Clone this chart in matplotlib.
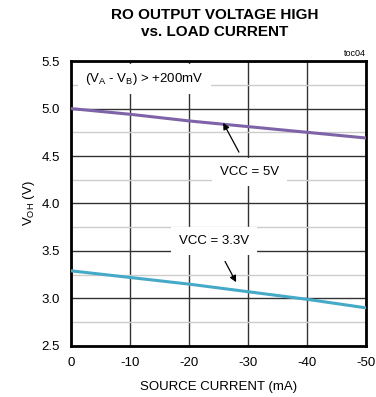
import matplotlib
matplotlib.use("Agg")
import matplotlib.pyplot as plt
import numpy as np

plt.rcParams['font.family'] = ['Liberation Sans', 'DejaVu Sans']

current = [0, -10, -20, -30, -40, -50]
voh_5v = [5.00, 4.94, 4.87, 4.81, 4.75, 4.69]
voh_33v = [3.29, 3.22, 3.15, 3.07, 2.99, 2.90]

fig = plt.figure(figsize=(3.76, 3.97), dpi=100)
ax = fig.add_axes([0.189, 0.129, 0.784, 0.717])

ax.plot(current, voh_5v, color='#7f63a8', lw=2.2, zorder=3)
ax.plot(current, voh_33v, color='#45a9c8', lw=2.2, zorder=3)

ax.set_xlim(0, -50)
ax.set_ylim(2.5, 5.5)
ax.set_xticks(np.arange(0, -51, -10))
ax.set_xticklabels(['0', '-10', '-20', '-30', '-40', '-50'])
ax.set_yticks(np.arange(2.5, 5.51, 0.5))
ax.set_yticks(np.arange(2.75, 5.5, 0.5), minor=True)
ax.grid(which='major', color='#333333', lw=1.0, zorder=1)
ax.grid(which='minor', axis='y', color='#cccccc', lw=1.0, zorder=1)
ax.tick_params(which='both', length=0, labelsize=9.5, pad=8)
for s in ax.spines.values():
    s.set_linewidth(2.0)

ax.set_xlabel('SOURCE CURRENT (mA)', fontsize=9.5, labelpad=9)
ax.set_ylabel('V$_{\\mathregular{OH}}$ (V)', fontsize=9.5, labelpad=3)

fig.suptitle('RO OUTPUT VOLTAGE HIGH\nvs. LOAD CURRENT', fontsize=11,
             fontweight='bold', y=0.98, x=0.572, linespacing=1.25)
fig.text(0.972, 0.855, 'toc04', fontsize=6.5, ha='right', va='bottom')

ax.text(-12.4, 5.31, '(V$_{\\mathregular{A}}$ - V$_{\\mathregular{B}}$) > +200mV',
        fontsize=9.5, ha='center', va='center', zorder=4,
        bbox=dict(boxstyle='square,pad=0.55', fc='white', ec='none'))
ax.annotate('VCC = 5V', xy=(-25.8, 4.85), xytext=(-30.3, 4.33),
            fontsize=9.5, ha='center', va='center', bbox=dict(boxstyle='square,pad=0.6', fc='white', ec='none'),
            arrowprops=dict(arrowstyle='-|>', color='black', lw=0.9, shrinkA=5, shrinkB=0),
            zorder=4)
ax.annotate('VCC = 3.3V', xy=(-28.0, 3.17), xytext=(-24.3, 3.60),
            fontsize=9.5, ha='center', va='center', bbox=dict(boxstyle='square,pad=0.6', fc='white', ec='none'),
            arrowprops=dict(arrowstyle='-|>', color='black', lw=0.9, shrinkA=5, shrinkB=0),
            zorder=4)

fig.savefig('out.png', dpi=100)
